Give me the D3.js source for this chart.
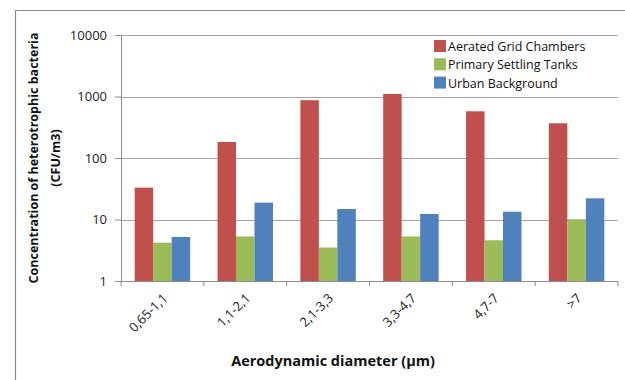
<!DOCTYPE html>
<meta charset="utf-8">
<style>
  body { margin: 0; background: #fff; }
  text { font-family: "Open Sans", "Noto Sans", sans-serif; }
  .tick text { font-size: 13px; fill: #222; }
  .legend text { font-size: 12.5px; fill: #111; }
  .title { font-weight: bold; fill: #111; }
</style>
<svg width="625" height="380"></svg>
<script src="https://d3js.org/d3.v7.min.js"></script>
<script>
  var categories = ["0,65-1,1", "1,1-2,1", "2,1-3,3", "3,3-4,7", "4,7-7", ">7"];
  var seriesNames = ["Aerated Grid Chambers", "Primary Settling Tanks", "Urban Background"];
  var aerated = [33, 182, 870, 1100, 575, 367];
  var primary = [4.2, 5.3, 3.5, 5.3, 4.6, 10.1];
  var urban = [5.2, 18.8, 14.8, 12.3, 13.4, 22.1];
  var yTicks = [1, 10, 100, 1000, 10000];
  var colors = ["#c0504d", "#9bbb59", "#4f81bd"];

  var series = [aerated, primary, urban];

  var svg = d3.select("svg"),
    plotLeft = 121, plotRight = 618, plotTop = 35, plotBottom = 281;

  // outer frame (only left and top edges are in view)
  svg.append("path")
    .attr("d", "M15.5,380V10.5H625")
    .attr("fill", "none")
    .attr("stroke", "#8c8c8c")
    .attr("stroke-width", 1.2);

  var x = d3.scaleBand().domain(categories).range([plotLeft, plotRight]);
  var inner = d3.scaleBand().domain(d3.range(series.length))
    .range([0, x.bandwidth()]).paddingOuter(0.74).paddingInner(0);
  var y = d3.scaleLog().domain([1, 10000]).range([plotBottom, plotTop]);

  // gridlines
  svg.append("g").selectAll("line").data(yTicks.slice(1)).join("line")
    .attr("x1", plotLeft).attr("x2", plotRight)
    .attr("y1", function (d) { return Math.round(y(d)) + 0.5; })
    .attr("y2", function (d) { return Math.round(y(d)) + 0.5; })
    .attr("stroke", "#a6a6a6");

  // bars
  var groups = svg.append("g").selectAll("g").data(categories).join("g")
    .attr("transform", function (d) { return "translate(" + x(d) + ",0)"; });

  groups.selectAll("rect")
    .data(function (c, i) { return series.map(function (s, k) { return { k: k, v: s[i] }; }); })
    .join("rect")
    .attr("x", function (d) { return inner(d.k); })
    .attr("width", inner.bandwidth())
    .attr("y", function (d) { return y(d.v); })
    .attr("height", function (d) { return plotBottom - y(d.v); })
    .attr("fill", function (d) { return colors[d.k]; });

  // y axis
  var yAxis = svg.append("g")
    .attr("transform", "translate(" + plotLeft + ",0)")
    .call(d3.axisLeft(y).tickValues(yTicks).tickFormat(d3.format("d")).tickSize(6).tickPadding(8));
  yAxis.select(".domain").attr("stroke", "#8c8c8c");
  yAxis.selectAll(".tick line").attr("stroke", "#8c8c8c");

  // x axis
  var xAxis = svg.append("g")
    .attr("transform", "translate(0," + plotBottom + ")")
    .call(d3.axisBottom(x).tickSize(0).tickFormat(""));
  xAxis.select(".domain").attr("stroke", "#8c8c8c").attr("d", "M" + plotLeft + ",0.5H" + plotRight);
  xAxis.selectAll(".sep").data(d3.range(categories.length + 1)).join("line")
    .attr("class", "sep")
    .attr("x1", function (i) { return plotLeft + i * x.step(); })
    .attr("x2", function (i) { return plotLeft + i * x.step(); })
    .attr("y1", 0).attr("y2", 5)
    .attr("stroke", "#8c8c8c");

  svg.append("g").selectAll("text").data(categories).join("text")
    .attr("transform", function (d) {
      return "translate(" + (x(d) + x.bandwidth() / 2 + 6) + "," + (plotBottom + 18) + ") rotate(-45)";
    })
    .attr("text-anchor", "end")
    .style("font-size", "13px")
    .attr("fill", "#222")
    .text(function (d) { return d; });

  // axis titles
  var yt = svg.append("text")
    .attr("class", "title")
    .attr("transform", "translate(38,158) rotate(-90)")
    .attr("text-anchor", "middle")
    .style("font-size", "12.5px");
  yt.append("tspan").attr("x", 0).attr("dy", 0).text("Concentration of heterotrophic bacteria");
  yt.append("tspan").attr("x", 0).attr("dy", "1.75em").text("(CFU/m3)");

  svg.append("text")
    .attr("class", "title")
    .attr("x", 333).attr("y", 366)
    .attr("text-anchor", "middle")
    .style("font-size", "14.5px")
    .text("Aerodynamic diameter (\u00b5m)");

  // legend
  var legend = svg.append("g").attr("class", "legend")
    .selectAll("g").data(seriesNames).join("g")
    .attr("transform", function (d, i) { return "translate(434," + (40 + i * 18.3) + ")"; });
  legend.append("rect").attr("width", 12).attr("height", 12)
    .attr("fill", function (d, i) { return colors[i]; });
  legend.append("text").attr("x", 14).attr("y", 11).text(function (d) { return d; });
</script>
